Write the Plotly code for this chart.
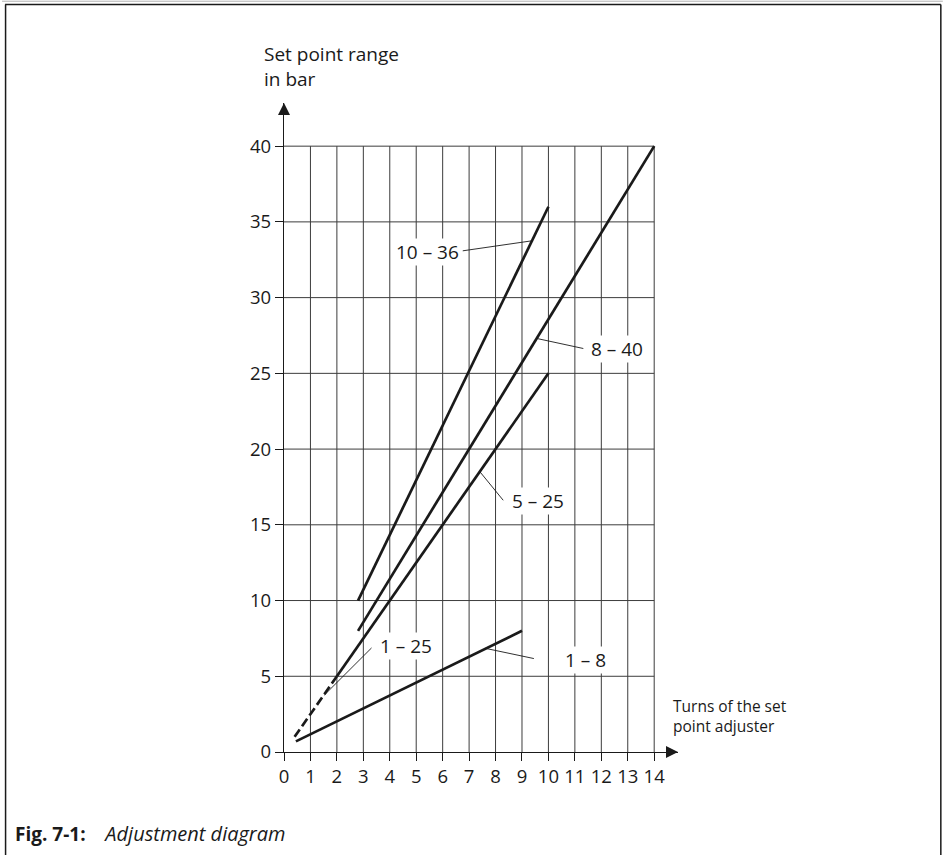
import plotly.graph_objects as go

# ---------------- data ----------------
x_ticks = list(range(0, 15))
y_ticks = list(range(0, 41, 5))

# curves (turns, bar)
x_10_36 = [2.8, 10]
y_10_36 = [10, 36]
x_8_40 = [2.8, 14]
y_8_40 = [8, 40]
x_5_25 = [2.0, 10]
y_5_25 = [5, 25]
x_1_25_dash = [0.4, 2.0]
y_1_25_dash = [1, 5]
x_1_8 = [0.45, 9]
y_1_8 = [0.7, 8]

# labels (text, x, y) and leader lines (x0, y0, x1, y1)
label_text = ["10 – 36", "8 – 40", "5 – 25", "1 – 25", "1 – 8"]
label_x = [5.41, 12.6, 9.6, 4.6, 11.4]
label_y = [33.0, 26.6, 16.55, 7.0, 6.05]
leader_x0 = [6.76, 11.32, 8.29, 3.31, 9.45]
leader_y0 = [33.09, 26.64, 16.62, 6.87, 6.17]
leader_x1 = [9.37, 9.57, 7.41, 1.52, 7.6]
leader_y1 = [33.75, 27.3, 18.5, 3.75, 6.85]

# ---------------- geometry ----------------
FIG_W, FIG_H = 943, 855
X_MAX_ARROW = 14.9
Y_MAX_ARROW = 42.85
PX_X = 26.45
PX_Y = 15.14
L = 284
B = 103.3
PW = X_MAX_ARROW * PX_X
PH = Y_MAX_ARROW * PX_Y
R = FIG_W - L - PW
T = FIG_H - B - PH


def paper_x(px):
    return (px - L) / PW


def paper_y(py):
    return (FIG_H - B - py) / PH


FONT = "'Open Sans', 'Noto Sans', sans-serif"
INK = "#1a1a1a"
GRID = "#3c3c3c"

fig = go.Figure()

# grid (only within 0..14 x 0..40)
gx, gy = [], []
for xv in x_ticks[1:]:
    gx += [xv, xv, None]
    gy += [0, y_ticks[-1], None]
for yv in y_ticks[1:]:
    gx += [0, x_ticks[-1], None]
    gy += [yv, yv, None]
fig.add_trace(go.Scatter(x=gx, y=gy, mode="lines",
                         line=dict(color=GRID, width=1), hoverinfo="skip"))

# curves
for xs, ys in [(x_10_36, y_10_36), (x_8_40, y_8_40), (x_5_25, y_5_25), (x_1_8, y_1_8)]:
    fig.add_trace(go.Scatter(x=xs, y=ys, mode="lines",
                             line=dict(color=INK, width=2.7)))
fig.add_trace(go.Scatter(x=x_1_25_dash, y=y_1_25_dash, mode="lines",
                         line=dict(color=INK, width=2.7, dash="9px,4px")))

# leader lines
lx, ly = [], []
for a, b, c, d in zip(leader_x0, leader_y0, leader_x1, leader_y1):
    lx += [a, c, None]
    ly += [b, d, None]
fig.add_trace(go.Scatter(x=lx, y=ly, mode="lines",
                         line=dict(color=INK, width=0.9)))

# axis arrowheads
fig.add_trace(go.Scatter(x=[0], y=[Y_MAX_ARROW], mode="markers", cliponaxis=False,
                         marker=dict(symbol="arrow-up", size=12, color=INK,
                                     line=dict(width=0))))
fig.add_trace(go.Scatter(x=[X_MAX_ARROW], y=[0], mode="markers", cliponaxis=False,
                         marker=dict(symbol="arrow-right", size=12, color=INK,
                                     line=dict(width=0))))

annotations = []
for t, xv, yv in zip(label_text, label_x, label_y):
    annotations.append(dict(x=xv, y=yv, xref="x", yref="y", text=t, showarrow=False,
                            font=dict(family=FONT, size=19, color=INK),
                            bgcolor="white", borderpad=0))

annotations.append(dict(x=paper_x(262), y=paper_y(39), xref="paper", yref="paper",
                        xanchor="left", yanchor="top", align="left", showarrow=False,
                        text="Set point range<br>in bar",
                        font=dict(family=FONT, size=19, color=INK)))
annotations.append(dict(x=paper_x(671), y=paper_y(693), xref="paper", yref="paper",
                        xanchor="left", yanchor="top", align="left", showarrow=False,
                        text="Turns of the set<br>point adjuster",
                        font=dict(family=FONT, size=15.5, color=INK)))
annotations.append(dict(x=paper_x(13), y=paper_y(833), xref="paper", yref="paper",
                        xanchor="left", yanchor="middle", align="left", showarrow=False,
                        text="<b>Fig. 7-1:</b>&nbsp;&nbsp;&nbsp;&nbsp;<i><span style='font-size:20px'>Adjustment diagram</span></i>",
                        font=dict(family=FONT, size=19, color=INK)))

# outer frame (open at bottom)
shapes = [
    dict(type="line", xref="paper", yref="paper", x0=paper_x(5), x1=paper_x(941),
         y0=paper_y(4.5), y1=paper_y(4.5), line=dict(color=INK, width=1.5)),
    dict(type="line", xref="paper", yref="paper", x0=paper_x(2), x1=paper_x(943),
         y0=paper_y(1.2), y1=paper_y(1.2), line=dict(color="#b0b0b0", width=1)),
    dict(type="line", xref="paper", yref="paper", x0=paper_x(5.5), x1=paper_x(5.5),
         y0=paper_y(4.5), y1=paper_y(855), line=dict(color=INK, width=1.5)),
    dict(type="line", xref="paper", yref="paper", x0=paper_x(941), x1=paper_x(941),
         y0=paper_y(4.5), y1=paper_y(855), line=dict(color=INK, width=1.5)),
]

fig.update_layout(
    width=FIG_W, height=FIG_H,
    margin=dict(l=L, r=R, t=T, b=B, pad=0),
    paper_bgcolor="white", plot_bgcolor="white",
    showlegend=False,
    annotations=annotations, shapes=shapes,
    font=dict(family=FONT, size=18, color=INK),
)
fig.update_xaxes(range=[0, X_MAX_ARROW], tickvals=x_ticks, ticktext=[str(v) for v in x_ticks],
                 showgrid=False, zeroline=False, showline=True, linecolor=INK, linewidth=1.3,
                 ticks="outside", ticklen=8, tickwidth=1, tickcolor=INK,
                 tickfont=dict(family=FONT, size=18.5, color=INK), fixedrange=True)
fig.update_yaxes(range=[0, Y_MAX_ARROW], tickvals=y_ticks, ticktext=[str(v) for v in y_ticks],
                 showgrid=False, zeroline=False, showline=True, linecolor=INK, linewidth=1.3,
                 ticks="outside", ticklen=8, tickwidth=1, tickcolor=INK,
                 tickfont=dict(family=FONT, size=18.5, color=INK), fixedrange=True)

fig.write_html("out.html", config={"displayModeBar": False},
               post_script="document.body.style.margin='0px';document.body.style.overflow='hidden';")
